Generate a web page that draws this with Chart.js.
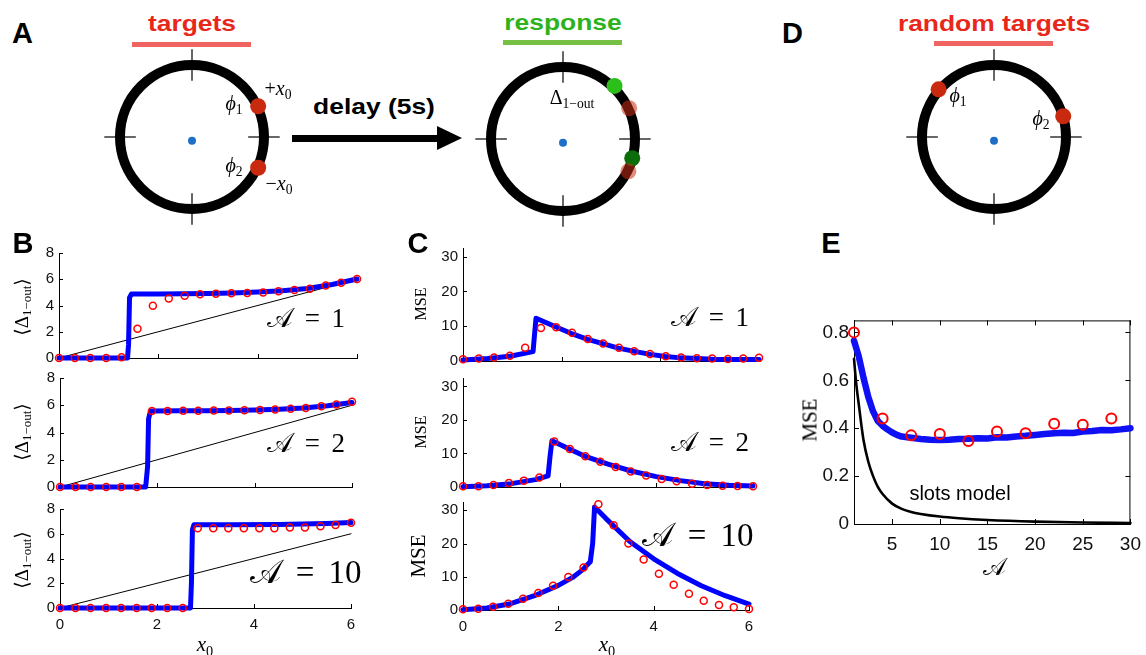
<!DOCTYPE html>
<html>
<head>
<meta charset="utf-8">
<script src="https://cdn.jsdelivr.net/npm/chart.js@4.4.1/dist/chart.umd.min.js"></script>
<style>
body { margin: 0; background: #fff; }
#fig { position: relative; width: 1146px; height: 655px; overflow: hidden; font-family: "Liberation Sans", Arial, sans-serif; }
canvas { position: absolute; }
.t { position: absolute; white-space: nowrap; line-height: 1; transform: translate(-50%, -50%); color: #000; }
.m { font-family: "Liberation Serif", "DejaVu Serif", serif; }
.i { font-style: italic; }
.s { font-size: 0.68em; vertical-align: -0.3em; }
.bar { position: absolute; height: 5px; }
</style>
</head>
<body>
<div id="fig"></div>
<script>
// ---------- data ----------
// sample positions x0 of the simulated points (panels B, C)
const xSim = [0, 0.32, 0.63, 0.95, 1.26, 1.58, 1.89, 2.21, 2.53, 2.84, 3.16, 3.47, 3.79, 4.11, 4.42, 4.74, 5.05, 5.37, 5.68, 6.0];

// B: <Delta 1-out> vs x0
const b1Sim = [0, 0, 0, 0, 0.05, 2.22, 3.98, 4.53, 4.75, 4.85, 4.9, 4.93, 4.95, 5.0, 5.08, 5.18, 5.28, 5.53, 5.73, 6.02];
const b1ThX = [0, 1.38, 1.4, 1.42, 1.46, 2, 2.5, 3, 3.5, 4, 4.5, 5, 5.5, 6];
const b1ThY = [0, 0, 1, 4.6, 4.88, 4.88, 4.9, 4.92, 4.96, 5.02, 5.12, 5.3, 5.6, 6.02];

const b2Sim = [0, 0, 0, 0, 0, 0, 5.58, 5.58, 5.6, 5.6, 5.62, 5.62, 5.64, 5.66, 5.69, 5.75, 5.8, 5.92, 6.05, 6.25];
const b2ThX = [0, 1.76, 1.8, 1.82, 1.86, 2.5, 3, 3.5, 4, 4.5, 5, 5.5, 6];
const b2ThY = [0, 0, 1.5, 5, 5.58, 5.6, 5.6, 5.62, 5.65, 5.7, 5.8, 5.97, 6.2];

const b3Sim = [0, 0, 0, 0, 0, 0, 0, 0, 0, 6.45, 6.45, 6.45, 6.45, 6.45, 6.45, 6.5, 6.5, 6.6, 6.7, 6.88];
const b3ThX = [0, 2.69, 2.71, 2.73, 2.76, 3.5, 4.5, 5, 5.5, 6];
const b3ThY = [0, 0, 2, 6.3, 6.72, 6.73, 6.75, 6.78, 6.82, 6.9];

const diagX = [0, 6];
const diagY = [0, 6];

// C: MSE vs x0
const c1Sim = [0.5, 0.7, 1.0, 1.5, 3.8, 9.5, 9.7, 8.1, 6.3, 5.0, 3.8, 2.8, 2.0, 1.4, 1.0, 0.8, 0.75, 0.6, 0.7, 0.9];
const c1ThX = [0, 0.5, 0.95, 1.42, 1.44, 1.48, 1.9, 2.2, 2.53, 2.85, 3.15, 3.5, 3.8, 4.1, 4.42, 4.75, 5.06, 5.5, 6];
const c1ThY = [0.3, 0.7, 1.35, 2.7, 6, 12.3, 9.7, 7.9, 6.2, 4.9, 3.7, 2.7, 1.9, 1.3, 0.9, 0.7, 0.5, 0.45, 0.4];

const c2Sim = [0.2, 0.2, 0.6, 1.2, 1.9, 2.8, 13.6, 11.3, 9.2, 7.5, 6.0, 4.6, 3.4, 2.4, 1.7, 1.0, 0.6, 0.4, 0.3, 0.2];
const c2ThX = [0, 0.5, 1, 1.5, 1.76, 1.8, 1.84, 2.2, 2.5, 3, 3.5, 4, 4.5, 5, 5.5, 6];
const c2ThY = [0.1, 0.4, 1.0, 2.2, 3.3, 9, 13.8, 11.3, 9.3, 6.8, 4.7, 3.1, 1.9, 1.0, 0.5, 0.3];

const c3Sim = [0.2, 0.4, 1.0, 1.9, 3.4, 5.1, 7.3, 9.9, 12.8, 31.8, 25.5, 20.0, 15.2, 10.9, 7.6, 4.9, 2.8, 1.5, 0.8, 0.3];
const c3ThX = [0, 0.5, 1, 1.5, 2, 2.3, 2.5, 2.67, 2.72, 2.76, 3, 3.5, 4, 4.5, 5, 5.5, 6];
const c3ThY = [0.1, 0.6, 1.9, 4.3, 7.4, 9.8, 12, 14.5, 20, 31, 27.5, 20.6, 15.4, 11, 7.3, 4.3, 1.8];

// E: MSE vs A with random targets
const eSimX = [1, 4, 7, 10, 13, 16, 19, 22, 25, 28];
const eSimY = [0.8, 0.44, 0.37, 0.376, 0.347, 0.386, 0.379, 0.419, 0.414, 0.44];
const eThX = [1, 1.5, 2, 2.5, 3, 3.5, 4, 4.5, 5, 5.5, 6, 7, 8, 9, 10, 11, 12, 13, 14, 15, 16, 17, 18, 19, 20, 21, 22, 23, 24, 25, 26, 27, 28, 29, 30];
const eThY = [0.765, 0.7, 0.61, 0.53, 0.47, 0.43, 0.41, 0.395, 0.382, 0.372, 0.365, 0.36, 0.355, 0.352, 0.351, 0.352, 0.355, 0.356, 0.358, 0.357, 0.362, 0.361, 0.365, 0.368, 0.372, 0.376, 0.379, 0.381, 0.38, 0.386, 0.388, 0.392, 0.391, 0.395, 0.4];
const slotsX = [1, 1.25, 1.5, 1.75, 2, 2.5, 3, 3.5, 4, 5, 6, 7, 8, 10, 12, 15, 20, 25, 30];
const slotsY = [0.69, 0.58, 0.5, 0.42, 0.35, 0.26, 0.2, 0.155, 0.125, 0.085, 0.063, 0.05, 0.042, 0.031, 0.024, 0.017, 0.01, 0.006, 0.004];

// tick values
const xTicksBC = [0, 2, 4, 6];
const yTicksB = [0, 2, 4, 6, 8];
const yTicksC = [0, 10, 20, 30];
const xTicksE = [5, 10, 15, 20, 25, 30];
const yTicksE = [0, 0.2, 0.4, 0.6, 0.8];

// ring diagrams (unit circle coordinates)
const crossTicks = [[0, 0.73, 0, 1.14], [0, -0.73, 0, -1.14], [-0.73, 0, -1.14, 0], [0.73, 0, 1.14, 0]];
const RED = "#c9290f";
const dotsA = [{x: 0.86, y: 0.4, c: RED}, {x: 0.86, y: -0.4, c: RED}];
const dotsResp = [{x: 0.86, y: 0.4, c: "rgba(200,45,20,0.55)"}, {x: 0.85, y: -0.42, c: "rgba(200,45,20,0.55)"},
                  {x: 0.67, y: 0.69, c: "#2cbf1a"}, {x: 0.9, y: -0.25, c: "#0b6e0b"}];
const dotsD = [{x: -0.72, y: 0.62, c: RED}, {x: 0.9, y: 0.27, c: RED}];

// ---------- helpers ----------
const fig = document.getElementById("fig");
const pts = (xs, ys) => xs.map((x, i) => ({x, y: ys[i]}));
const FONT = "'Liberation Sans', Arial, sans-serif";

function addCanvas(left, top, w, h) {
	const c = document.createElement("canvas");
	c.width = w; c.height = h;
	c.style.left = left + "px"; c.style.top = top + "px";
	c.style.width = w + "px"; c.style.height = h + "px";
	fig.appendChild(c);
	return c;
}

function txt(html, x, y, css) {
	const d = document.createElement("div");
	d.className = "t";
	d.innerHTML = html;
	d.style.left = x + "px";
	d.style.top = y + "px";
	if (css) d.style.cssText += css;
	fig.appendChild(d);
	return d;
}

function bar(x1, x2, y, color) {
	const d = document.createElement("div");
	d.className = "bar";
	d.style.cssText += `left:${x1}px;width:${x2 - x1}px;top:${y}px;background:${color}`;
	fig.appendChild(d);
}

// MATLAB-style inward tick marks (and the closing box for panel E)
const inTicks = {
	id: "inTicks",
	beforeDatasetsDraw(chart, args, o) {
		const {ctx, chartArea: a} = chart;
		const {x, y} = chart.scales;
		ctx.save();
		ctx.strokeStyle = "#000";
		ctx.lineWidth = 1;
		ctx.beginPath();
		x.ticks.forEach(tk => {
			const p = Math.round(x.getPixelForValue(tk.value)) + 0.5;
			ctx.moveTo(p, a.bottom); ctx.lineTo(p, a.bottom - o.len);
			if (o.box) { ctx.moveTo(p, a.top); ctx.lineTo(p, a.top + o.len); }
		});
		y.ticks.forEach(tk => {
			const p = Math.round(y.getPixelForValue(tk.value)) + 0.5;
			ctx.moveTo(a.left, p); ctx.lineTo(a.left + o.len, p);
			if (o.box) { ctx.moveTo(a.right, p); ctx.lineTo(a.right - o.len, p); }
		});
		if (o.box) {
			ctx.moveTo(a.left, a.top + 0.5); ctx.lineTo(a.right, a.top + 0.5);
			ctx.moveTo(a.right - 0.5, a.top); ctx.lineTo(a.right - 0.5, a.bottom);
		}
		ctx.stroke();
		ctx.restore();
	}
};

const YW = 50, PADT = 14, PADR = 16;

function plot(box, datasets, sx, sy, opt) {
	const [l, t, r, b] = box;
	// keep room for half of the lowest y label, or the layout shrinks the plot
	const xh = opt.xLabels ? 36 : 14;
	const c = addCanvas(l - YW, t - PADT, r - l + YW + PADR, b - t + PADT + xh);
	const tickFont = {family: FONT, size: opt.fs};
	new Chart(c, {
		type: "scatter",
		data: {datasets},
		options: {
			responsive: false,
			animation: false,
			devicePixelRatio: 1,
			events: [],
			layout: {autoPadding: false, padding: {top: PADT, right: PADR, left: 0, bottom: 0}},
			plugins: {
				legend: {display: false},
				tooltip: {enabled: false},
				inTicks: {box: !!opt.box, len: opt.tl || 4},
			},
			scales: {
				x: {
					type: "linear", min: sx.min, max: sx.max,
					afterFit: s => { s.height = xh; },
					afterBuildTicks: s => { s.ticks = sx.ticks.map(v => ({value: v})); },
					grid: {display: false, drawTicks: false},
					border: {display: true, color: "#000", width: 1},
					ticks: {display: !!opt.xLabels, autoSkip: false, maxRotation: 0, padding: opt.xpad || 8,
						color: "#111", font: tickFont, callback: v => String(v)},
				},
				y: {
					type: "linear", min: sy.min, max: sy.max,
					afterFit: s => { s.width = YW; },
					afterBuildTicks: s => { s.ticks = sy.ticks.map(v => ({value: v})); },
					grid: {display: false, drawTicks: false},
					border: {display: true, color: "#000", width: 1},
					ticks: {autoSkip: false, padding: 5, color: "#111", font: tickFont, callback: v => String(v)},
				},
			},
		},
		plugins: [inTicks],
	});
}

function simSet(xs, ys, r, w) {
	return {data: pts(xs, ys), showLine: false, pointRadius: r, borderWidth: w, borderColor: "#ff0000",
		backgroundColor: "rgba(0,0,0,0)", clip: false};
}
function lineSet(xs, ys, color, w) {
	return {data: pts(xs, ys), showLine: true, pointRadius: 0, borderColor: color, borderWidth: w,
		borderJoinStyle: "round", borderCapStyle: "round", clip: false};
}

function dial(cx, cy, dots) {
	const S = 200;
	const c = addCanvas(cx - S / 2, cy - S / 2, S, S);
	const sets = [];
	dots.forEach(d => sets.push({data: [{x: d.x, y: d.y}], pointRadius: 8, borderWidth: 0, backgroundColor: d.c, clip: false}));
	sets.push({data: [{x: 0, y: -0.05}], pointRadius: 4, borderWidth: 0, backgroundColor: "#1f6fc8"});
	sets.push({data: [{x: 0, y: 0}], pointRadius: 72, borderWidth: 10, borderColor: "#000", backgroundColor: "rgba(0,0,0,0)", clip: false});
	crossTicks.forEach(s => sets.push({data: [{x: s[0], y: s[1]}, {x: s[2], y: s[3]}], showLine: true,
		pointRadius: 0, borderColor: "#000", borderWidth: 1.2, clip: false}));
	new Chart(c, {
		type: "scatter",
		data: {datasets: sets},
		options: {
			responsive: false, animation: false, devicePixelRatio: 1, events: [],
			layout: {autoPadding: false, padding: 0},
			plugins: {legend: {display: false}, tooltip: {enabled: false}},
			scales: {
				x: {display: false, min: -1.3, max: 1.3},
				y: {display: false, min: -1.3, max: 1.3},
			},
		},
	});
}

// ---------- panel A / D diagrams ----------
dial(191.5, 137, dotsA);
dial(563, 139, dotsResp);
dial(994, 137, dotsD);

// arrow
const shaft = document.createElement("div");
shaft.style.cssText = "position:absolute;left:292px;top:135px;width:148px;height:6.5px;background:#000";
fig.appendChild(shaft);
const head = document.createElement("div");
head.style.cssText = "position:absolute;left:437px;top:126px;width:0;height:0;border-left:25px solid #000;border-top:12.5px solid transparent;border-bottom:12.5px solid transparent";
fig.appendChild(head);

// ---------- panel B ----------
const sxBC = {min: 0, max: 6, ticks: xTicksBC};
const syB = {min: 0, max: 8, ticks: yTicksB};
plot([59, 253, 357, 358], [simSet(xSim, b1Sim, 3.5, 1.5), lineSet(b1ThX, b1ThY, "#0000ff", 5), lineSet(diagX, diagY, "#000", 1)], sxBC, syB, {fs: 15});
plot([60, 378, 352, 487], [simSet(xSim, b2Sim, 3.5, 1.5), lineSet(b2ThX, b2ThY, "#0000ff", 5), lineSet(diagX, diagY, "#000", 1)], sxBC, syB, {fs: 15});
plot([60, 509, 351, 608], [simSet(xSim, b3Sim, 3.5, 1.5), lineSet(b3ThX, b3ThY, "#0000ff", 5), lineSet(diagX, diagY, "#000", 1)], sxBC, syB, {fs: 15, xLabels: true, xpad: 8});

// ---------- panel C ----------
const syC = {min: 0, max: 32.5, ticks: yTicksC};
plot([463, 248, 759, 361], [simSet(xSim, c1Sim, 3.5, 1.5), lineSet(c1ThX, c1ThY, "#0000ff", 5)], sxBC, syC, {fs: 15});
plot([463, 378, 753, 487], [simSet(xSim, c2Sim, 3.5, 1.5), lineSet(c2ThX, c2ThY, "#0000ff", 5)], sxBC, syC, {fs: 15});
plot([463, 502, 749, 610], [simSet(xSim, c3Sim, 3.5, 1.5), lineSet(c3ThX, c3ThY, "#0000ff", 5)], sxBC, syC, {fs: 15, xLabels: true, xpad: 8});

// ---------- panel E ----------
const slots = lineSet(slotsX, slotsY, "#000", 2.6);
slots.cubicInterpolationMode = "monotone";
const eBlue = lineSet(eThX, eThY, "#1010f5", 6.5);
plot([854, 318, 1134, 524], [simSet(eSimX, eSimY, 5, 2), eBlue, slots],
	{min: 1, max: 30, ticks: xTicksE}, {min: 0, max: 0.85, ticks: yTicksE}, {fs: 19, xLabels: true, box: true, xpad: 9, tl: 5});

// ---------- text ----------
const stretch = "transform:translate(-50%,-50%) scaleX(1.2);font-weight:bold;font-size:22px;";
txt("A", 22.5, 33, "font-weight:bold;font-size:29px");
txt("D", 792.5, 33, "font-weight:bold;font-size:29px");
txt("B", 23, 243, "font-weight:bold;font-size:29px");
txt("C", 418, 243, "font-weight:bold;font-size:29px");
txt("E", 831, 243, "font-weight:bold;font-size:29px");

txt("targets", 191.5, 24, stretch + "color:#e8271a");
bar(132, 251, 41.5, "#ef6461");
txt("response", 562.5, 23, stretch + "color:#2cb21c");
bar(503, 622, 40, "#76c043");
txt("random targets", 993.5, 24, stretch + "color:#e8271a");
bar(934, 1053, 41, "#ef6461");
txt("delay (5s)", 374, 107, stretch);

const sym = "font-size:20px;";
txt('<span class="i">ϕ</span><span class="s">1</span>', 234, 105, sym);
txt('+<span class="i">x</span><span class="s">0</span>', 278, 90, sym);
txt('<span class="i">ϕ</span><span class="s">2</span>', 234, 167, sym);
txt('−<span class="i">x</span><span class="s">0</span>', 279, 185, sym);
txt('Δ<span class="s">1−out</span>', 572, 99, sym);
txt('<span class="i">ϕ</span><span class="s">1</span>', 958, 97, sym);
txt('<span class="i">ϕ</span><span class="s">2</span>', 1041, 120, sym);
document.querySelectorAll(".t").forEach(d => { if (d.innerHTML.includes('class="s"')) d.classList.add("m"); });

// axis titles
const rot = "transform:translate(-50%,-50%) rotate(-90deg);";
[307, 432, 560].forEach(y => txt('⟨Δ<span class="s">1−out</span>⟩', 23, y, rot + "font-size:19px").classList.add("m"));
txt("MSE", 421, 304, rot + "font-size:16px").classList.add("m");
txt("MSE", 421, 432, rot + "font-size:16px").classList.add("m");
txt("MSE", 418, 556, rot + "font-size:21px").classList.add("m");
txt("MSE", 810, 420, rot + "font-size:21px").classList.add("m");
txt('<span class="i">x</span><span class="s">0</span>', 205, 646, "font-size:21px").classList.add("m");
txt('<span class="i">x</span><span class="s">0</span>', 607, 646, "font-size:21px").classList.add("m");
txt('𝒜', 994, 567, "font-size:24px").classList.add("m");

// A = n annotations
const ann = "font-size:27px;word-spacing:5px;";
txt("𝒜 = 1", 306, 318, ann).classList.add("m");
txt("𝒜 = 2", 306, 443, ann).classList.add("m");
txt("𝒜 = 10", 306, 572, "font-size:33px;word-spacing:6px;").classList.add("m");
txt("𝒜 = 1", 710, 317, ann).classList.add("m");
txt("𝒜 = 2", 710, 442, ann).classList.add("m");
txt("𝒜 = 10", 698, 535, "font-size:33px;word-spacing:6px;").classList.add("m");

txt("slots model", 960, 493, "font-size:20px");
</script>
</body>
</html>
